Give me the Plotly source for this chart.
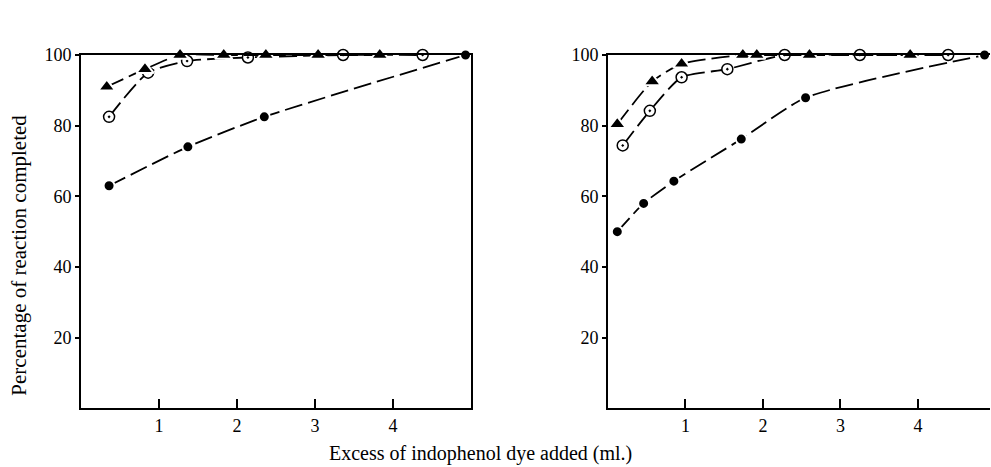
import plotly.graph_objects as go

# ---- data (left panel) ----
left_tri_x = [0.33, 0.82, 1.27, 1.83, 2.37, 3.04, 3.83]
left_tri_y = [91, 96, 100, 100, 100, 100, 100]
left_odot_x = [0.36, 0.86, 1.36, 2.14, 3.36, 4.38]
left_odot_y = [82.5, 95, 98.3, 99.3, 100, 100]
left_dot_x = [0.36, 1.37, 2.35, 4.93]
left_dot_y = [63, 74, 82.5, 100]

# ---- data (right panel) ----
right_tri_x = [0.12, 0.57, 0.95, 1.74, 1.92, 2.6, 3.9]
right_tri_y = [80.4, 92.5, 97.5, 100, 100, 100, 100]
right_odot_x = [0.19, 0.54, 0.95, 1.54, 2.28, 3.25, 4.39]
right_odot_y = [74.4, 84.2, 93.7, 96, 100, 100, 100]
right_dot_x = [0.12, 0.46, 0.85, 1.72, 2.55, 4.86]
right_dot_y = [50, 58, 64.3, 76.2, 87.9, 100]

x_ticks = [1, 2, 3, 4]
y_ticks = [20, 40, 60, 80, 100]

FONT = "Liberation Serif, DejaVu Serif, serif"
LINE = dict(color="black", width=1.8, dash="18px,6px", shape="spline", smoothing=0.6)

fig = go.Figure()


def add_series(xs, ys, symbol, size, xa, ya):
    odot = symbol == "circle-dot"
    fig.add_trace(go.Scatter(
        x=xs, y=ys, mode="lines+markers", xaxis=xa, yaxis=ya,
        line=LINE, cliponaxis=False, showlegend=False,
        marker=dict(symbol=symbol, size=size,
                    color="white" if odot else "black",
                    line=dict(color="black" if odot else "white",
                              width=1.5 if odot else 2)),
    ))


add_series(left_dot_x, left_dot_y, "circle", 11, "x", "y")
add_series(left_odot_x, left_odot_y, "circle-dot", 11, "x", "y")
add_series(left_tri_x, left_tri_y, "triangle-up", 15, "x", "y")
add_series(right_dot_x, right_dot_y, "circle", 11, "x2", "y2")
add_series(right_odot_x, right_odot_y, "circle-dot", 11, "x2", "y2")
add_series(right_tri_x, right_tri_y, "triangle-up", 15, "x2", "y2")

W, H = 991, 467
ydom = [(H - 407) / H, (H - 46) / H]

common_x = dict(showgrid=False, zeroline=False, showline=True, linecolor="black",
                linewidth=2, ticks="inside", ticklen=9, tickwidth=1.5, tickcolor="black",
                tickvals=x_ticks, tickfont=dict(family=FONT, size=18, color="black"))
common_y = dict(showgrid=False, zeroline=False, showline=True, linecolor="black",
                linewidth=2, ticks="outside", ticklen=4, tickwidth=1.5, tickcolor="black",
                tickvals=y_ticks, range=[0, 100], domain=ydom,
                tickfont=dict(family=FONT, size=18, color="black"))

fig.update_layout(
    width=W, height=H, margin=dict(l=0, r=0, t=0, b=0),
    paper_bgcolor="white", plot_bgcolor="white",
    xaxis=dict(common_x, domain=[81 / W, 471 / W], range=[0, 5], anchor="y", mirror=True),
    yaxis=dict(common_y, anchor="x", mirror=True),
    xaxis2=dict(common_x, domain=[608 / W, 990 / W], range=[0, 4.93], anchor="y2", mirror=True),
    yaxis2=dict(common_y, anchor="x2", mirror=False),
    annotations=[
        dict(text="Percentage of reaction completed", xref="paper", yref="paper",
             x=19 / W, y=(H - 251) / H, textangle=-90, showarrow=False,
             font=dict(family=FONT, size=21, color="black"), xanchor="center", yanchor="middle"),
        dict(text="Excess of indophenol dye added (ml.)", xref="paper", yref="paper",
             x=480 / W, y=(H - 453) / H, showarrow=False,
             font=dict(family=FONT, size=20, color="black"), xanchor="center", yanchor="middle"),
    ],
)

fig.write_html("out.html")
